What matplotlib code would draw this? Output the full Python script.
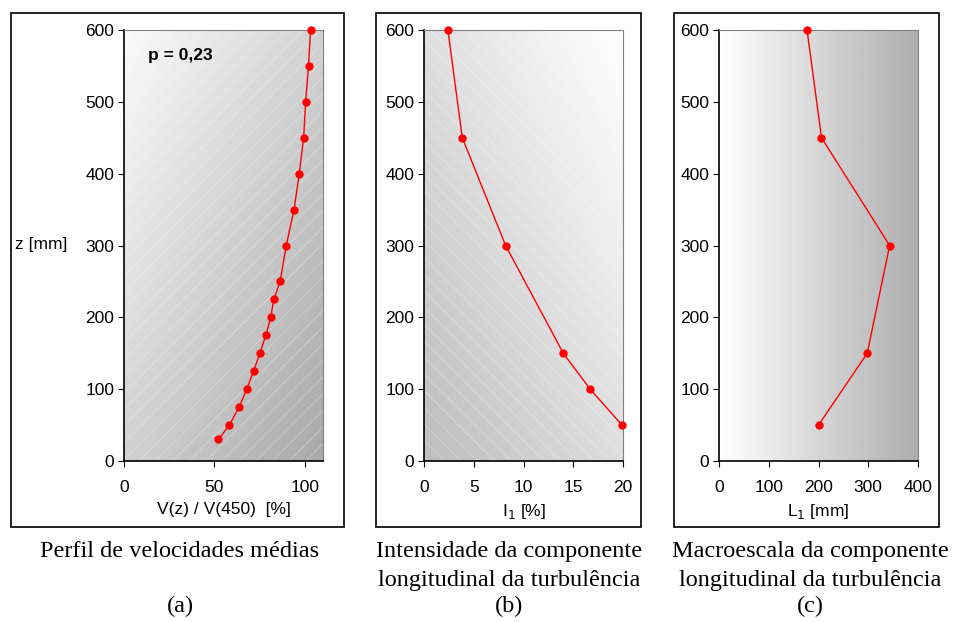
import matplotlib.pyplot as plt
import numpy as np
from matplotlib.patches import Rectangle

plt.rcParams['font.family'] = ['Liberation Sans', 'DejaVu Sans']
plt.rcParams['hatch.linewidth'] = 0.6

# (a) perfil de velocidades medias
z_a = [600, 550, 500, 450, 400, 350, 300, 250, 225, 200, 175, 150, 125, 100, 75, 50, 30]
v_a = [103.1, 102.0, 100.4, 99.3, 96.9, 94.0, 89.7, 86.3, 82.8, 81.1, 78.4, 75.1, 71.6, 67.9, 63.6, 58.2, 52.2]

# (b) intensidade da turbulencia
z_b = [600, 450, 300, 150, 100, 50]
i_b = [2.4, 3.85, 8.2, 14.0, 16.7, 19.9]

# (c) macroescala
z_c = [600, 450, 300, 150, 50]
l_c = [177, 206, 343, 298, 200]

captions = [['Perfil de velocidades médias'],
            ['Intensidade da componente', 'longitudinal da turbulência'],
            ['Macroescala da componente', 'longitudinal da turbulência']]
letras = ['(a)', '(b)', '(c)']

W, H = 956, 622
fig = plt.figure(figsize=(9.56, 6.22), dpi=100)

def fx(px):
    return px / W

def fy(py):
    return 1 - py / H

# molduras externas
for x0, x1 in [(11, 344), (376, 641), (674, 939)]:
    fig.patches.append(Rectangle((fx(x0), fy(527)), fx(x1 - x0), (527 - 13) / H,
                                 transform=fig.transFigure, fill=False,
                                 edgecolor='black', lw=1.2))

lefts = [124, 424, 719]
axs = [fig.add_axes([fx(l), fy(461), fx(199), (461 - 30) / H]) for l in lefts]

n = 200
xx, yy = np.meshgrid(np.linspace(0, 1, n), np.linspace(1, 0, n))
grads = [
    0.98 - 0.32 * (xx + (1 - yy)) / 2,
    1.0 - 0.26 * ((1 - xx) + (1 - yy)) / 2,
    1.0 - 0.32 * xx,
]
hatches = ['//', '\\\\', None]

data = [(v_a, z_a), (i_b, z_b), (l_c, z_c)]
xlims = [(0, 110), (0, 20), (0, 400)]
xticks = [[0, 50, 100], [0, 5, 10, 15, 20], [0, 100, 200, 300, 400]]
xlabels = ['V(z) / V(450)  [%]', 'I$_1$ [%]', 'L$_1$ [mm]']

for ax, g, h, (xv, zv), xl, xt, lab in zip(axs, grads, hatches, data, xlims, xticks, xlabels):
    ax.imshow(g, extent=[0, 1, 0, 1], transform=ax.transAxes, cmap='gray',
              vmin=0, vmax=1, aspect='auto', zorder=0, interpolation='bilinear')
    if h:
        ax.add_patch(Rectangle((0, 0), 1, 1, transform=ax.transAxes, fill=False,
                               hatch=h, edgecolor=(1, 1, 1, 0.3), lw=0, zorder=1))
    ax.plot(xv, zv, color='red', lw=1, marker='o', ms=5, zorder=3, clip_on=False)
    ax.set_xlim(*xl)
    ax.set_ylim(0, 600)
    ax.set_xticks(xt)
    ax.set_yticks(range(0, 601, 100))
    ax.tick_params(direction='out', length=4, labelsize=12.5, pad=3)
    ax.tick_params(axis='x', pad=10)
    for s in ['top', 'right']:
        ax.spines[s].set_color('#808080')
    for s in ['left', 'bottom']:
        ax.spines[s].set_linewidth(1.2)
    ax.set_xlabel(lab, fontsize=12.5, labelpad=5)

axs[0].text(0.12, 0.94, 'p = 0,23', transform=axs[0].transAxes, fontsize=12.5,
            fontweight='bold', va='center', ha='left')
fig.text(fx(15), fy(245), 'z [mm]', fontsize=12.5, va='center', ha='left')

centers = [180, 509, 810]
for c, cap, let in zip(centers, captions, letras):
    for k, linha in enumerate(cap):
        fig.text(fx(c), fy(557 + 29 * k), linha, fontsize=17.5,
                 family='Liberation Serif', ha='center', va='baseline')
    fig.text(fx(c), fy(612), let, fontsize=17.5, family='Liberation Serif',
             ha='center', va='baseline')

fig.savefig('out.png', dpi=100)
